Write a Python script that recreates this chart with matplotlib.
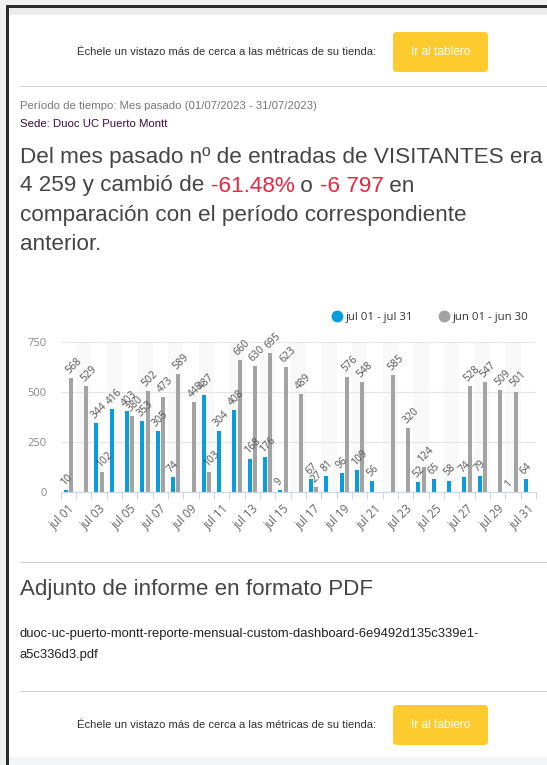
import matplotlib
matplotlib.use('Agg')
import matplotlib.pyplot as plt
from matplotlib.patches import Rectangle, FancyBboxPatch
from matplotlib.lines import Line2D
import numpy as np

# data
days = list(range(1, 32))
tick_labels = ['jul %02d' % d for d in days]
visits_jul = [10, 0, 344, 416, 403, 353, 305, 74, 0, 487, 304, 408, 168, 176, 9, 0,
              67, 81, 96, 109, 56, 0, 0, 52, 65, 58, 74, 79, 0, 1, 64]
visits_jun = [568, 529, 102, 0, 380, 502, 473, 589, 448, 103, 0, 660, 630, 695, 623, 489,
              27, 0, 576, 548, 0, 585, 320, 124, 0, 0, 528, 547, 509, 501, 0]
series_names = ['jul 01 - jul 31', 'jun 01 - jun 30']
y_ticks = [0, 250, 500, 750]

BLUE = '#0a9ddd'
GRAY = '#a3a3a3'
RED = '#e8263f'
TXT = '#454545'
PAGE_FONT = 'Liberation Sans'
CHART_FONT = 'Open Sans'

W, H = 547, 765
fig = plt.figure(figsize=(W / 100, H / 100), dpi=100)
fig.patch.set_facecolor('#f0f0f0')
tr = fig.dpi_scale_trans


def P(x, y):
    # pixel coords (top-left origin) -> inches
    return x / 100, (H - y) / 100


def rect(x0, y0, x1, y1, color, z=0):
    x, y = P(x0, y1)
    fig.add_artist(Rectangle((x, y), (x1 - x0) / 100, (y1 - y0) / 100,
                             transform=tr, color=color, zorder=z, lw=0))


def text(x, y, s, size, color=TXT, ha='left', family=PAGE_FONT, **kw):
    return fig.text(*P(x, y), s, transform=tr, fontsize=size, color=color,
                    ha=ha, va='center', family=family, **kw)


# page frame
rect(8, 7, W, 757, 'white')
rect(8, 7, W, 15, '#ebebeb')
rect(8, 757, W, H, '#f3f5f8')
rect(6, 5, 8.5, H, '#2b2b2b', 2)
rect(6, 5, W, 7.5, '#2b2b2b', 2)


def header(yc, top, bot):
    text(226.5, yc, 'Échele un vistazo más de cerca a las métricas de su tienda:', 8.1,
         color='#333333', ha='center')
    x, y = P(393, bot)
    fig.add_artist(FancyBboxPatch((x, y), 0.95, (bot - top) / 100,
                                  boxstyle='round,pad=0,rounding_size=0.04',
                                  transform=tr, color='#fecb2f', lw=0))
    text(440.5, yc, 'Ir al tablero', 8.6, color='white', ha='center')


header(52, 32, 72)
header(725, 705, 745)

for yl in (86, 562, 691):
    rect(20, yl - 0.5, W, yl + 0.7, '#d2d2d2')

text(20, 106, 'Período de tiempo: Mes pasado (01/07/2023 - 31/07/2023)', 8.2, color='#777777')
text(20, 124, 'Sede: Duoc UC Puerto Montt', 8.2, color='#3d0b3d')

BIG = 16.2
text(20, 157, 'Del mes pasado nº de entradas de VISITANTES era', BIG)

fig.canvas.draw()
renderer = fig.canvas.get_renderer()


def width(s, size):
    t = fig.text(0, 0, s + '|', fontsize=size, family=PAGE_FONT)
    b = fig.text(0, 0, '|', fontsize=size, family=PAGE_FONT)
    w = t.get_window_extent(renderer).width - b.get_window_extent(renderer).width
    t.remove()
    b.remove()
    return w


segments = [('4 259 y cambió de ', TXT), ('-61.48%', RED), (' o ', TXT),
            ('-6 797', RED), (' en', TXT)]
prefix = ''
for s, c in segments:
    text(20 + width(prefix, BIG), 186, s, BIG, color=c)
    prefix += s
text(20, 216, 'comparación con el período correspondiente', BIG)
text(20, 245, 'anterior.', BIG)

text(20, 590, 'Adjunto de informe en formato PDF', 16.1)
text(20, 634, 'duoc-uc-puerto-montt-reporte-mensual-custom-dashboard-6e9492d135c339e1-', 9.35,
     color='#222222')
text(20, 655, 'a5c336d3.pdf', 9.35, color='#222222')

# chart
ax = fig.add_axes([60.7 / W, 1 - 492.3 / H, (536 - 60.7) / W, 150.6 / H])
ax.set_facecolor('white')
x = np.array(days)
bw = 0.27
ax.bar(x - 0.17, visits_jul, bw, color=BLUE, zorder=3)
ax.bar(x + 0.17, visits_jun, bw, color=GRAY, zorder=3)
for d in days:
    if d % 2 == 0:
        ax.axvspan(d - 0.5, d + 0.5, color='#f9f9f9', zorder=0, lw=0)

for off, vals in ((-0.17, visits_jul), (0.17, visits_jun)):
    for d, v in zip(days, vals):
        if v > 0:
            ax.annotate(str(v), (d + off, v), xytext=(0, 1.5), textcoords='offset points',
                        rotation=45, rotation_mode='anchor', ha='left', va='bottom',
                        fontsize=7.5, color='#555555', family=CHART_FONT, zorder=4)

ax.set_xlim(0.5, 31.5)
ax.set_ylim(0, 750)
ax.set_yticks(y_ticks)
ax.set_yticklabels([str(v) for v in y_ticks], family=CHART_FONT, fontsize=8, color='#888888')
ax.yaxis.grid(True, color='#e6e6e6', lw=0.8, zorder=1)
ax.set_axisbelow(True)
ax.tick_params(axis='y', length=0, pad=10)

ax.set_xticks(days[::2])
ax.set_xticklabels(tick_labels[::2], rotation=45, ha='right', rotation_mode='anchor',
                   family=CHART_FONT, fontsize=8.3, color='#666666')
ax.set_xticks(np.arange(0.5, 32, 1), minor=True)
ax.tick_params(axis='x', which='major', length=0, pad=7)
ax.tick_params(axis='x', which='minor', length=5, color='#ccd6eb', width=0.8)
for side in ('top', 'right', 'left'):
    ax.spines[side].set_visible(False)
ax.spines['bottom'].set_color('#ccd6eb')
ax.spines['bottom'].set_zorder(5)

handles = [Line2D([], [], marker='o', ls='', markersize=7.5, color=c) for c in (BLUE, GRAY)]
fig.legend(handles, series_names, loc='center left', bbox_to_anchor=(324 / W, 1 - 317 / H),
           ncol=2, frameon=False, handletextpad=0.2, columnspacing=2.1, handlelength=1.2,
           prop={'family': CHART_FONT, 'size': 8.2}, labelcolor='#333333', borderpad=0)

fig.savefig('out.png', dpi=100, facecolor=fig.get_facecolor())
